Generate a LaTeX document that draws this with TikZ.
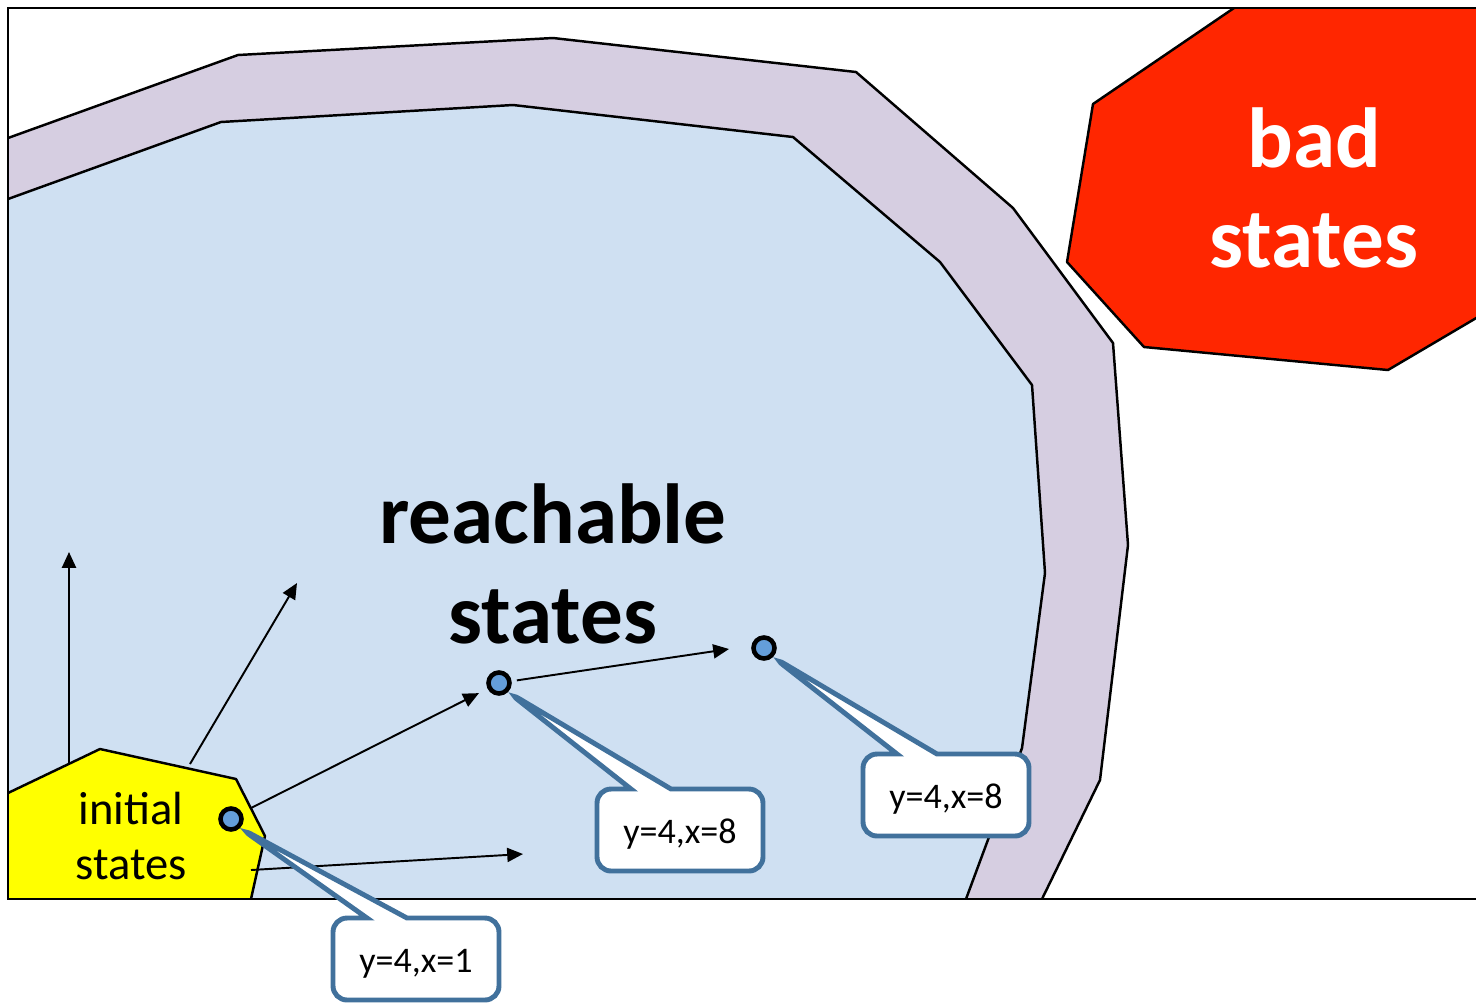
\documentclass[tikz,border=0pt]{standalone}
\usepackage{fontspec}
\setmainfont{Carlito}
\usetikzlibrary{arrows.meta,shapes.callouts}

\definecolor{shellpurple}{RGB}{214,206,225}
\definecolor{reachblue}{RGB}{207,224,242}
\definecolor{badred}{RGB}{255,38,0}
\definecolor{inityellow}{RGB}{255,255,0}
\definecolor{boxblue}{RGB}{65,113,156}
\definecolor{dotblue}{RGB}{100,158,218}

\begin{document}
\begin{tikzpicture}[x=0.02cm,y=-0.02cm]
\tikzset{
  region/.style={draw=black,line width=1.4pt,line join=round},
  statedot/.style={circle,draw=black,line width=2.6pt,fill=dotblue,minimum size=0.42cm,inner sep=0pt},
  trans/.style={draw=black,line width=1.1pt,-{Triangle[length=9pt,width=8pt]}},
  valbox/.style={rectangle callout,draw=boxblue,line width=2.8pt,fill=white,rounded corners=0.28cm,
    minimum width=3.32cm,minimum height=1.64cm,callout pointer width=0.8cm,
    text height=0.62cm,text depth=0.08cm,font=\fontsize{20.5}{24}\selectfont},
  biglabel/.style={align=center,font=\fontsize{48.5}{57}\selectfont\bfseries}
}
\useasboundingbox (0,0) rectangle (1476,1002);
% regions, cut at the frame
\begin{scope}
\clip (8,8) rectangle (1476,899);
\draw[region,fill=shellpurple] (8,138) -- (238,55) -- (553,38) -- (856,72) -- (1013,208) -- (1113,343)
  -- (1128,545) -- (1100,780) -- (1042,899) -- (1027,930) -- (-10,930) -- (-10,138) -- cycle;
\draw[region,fill=reachblue] (8,199) -- (221,122) -- (513,105) -- (793,137) -- (940,262) -- (1032,385)
  -- (1045,573) -- (1022,748) -- (966,899) -- (955,930) -- (-10,930) -- (-10,199) -- cycle;
\draw[region,fill=inityellow] (8,793) -- (100,749) -- (236,779) -- (265,836) -- (251,899)
  -- (248,930) -- (-10,930) -- (-10,793) -- cycle;
\draw[region,fill=badred] (1260,-10) -- (1234,8) -- (1093,104) -- (1067,262) -- (1144,347)
  -- (1388,370) -- (1500,304) -- (1500,-10) -- cycle;
\end{scope}
\draw[line width=1.4pt] (1476,8) -- (8,8) -- (8,899) -- (1476,899);

% labels
\node[biglabel] (n_reach) at (553,564) {reachable\\states};
\node[biglabel,text=white] (n_bad) at (1314,188) {bad\\states};
\node[align=center,font=\fontsize{26.5}{31}\selectfont] (n_init) at (131,836) {initial\\states};

% states
\node[statedot] (n_s0) at (231,819) {};
\node[statedot] (n_s1) at (499,683) {};
\node[statedot] (n_s2) at (764,648) {};

% transitions
\coordinate (p_a) at (69,764);
\coordinate (q_a) at (69,552);
\coordinate (p_b) at (190,764);
\coordinate (q_b) at (297,583);
\coordinate (p_c) at (251,808);
\coordinate (q_d) at (729,649);
\coordinate (p_e) at (251,870);
\coordinate (q_e) at (523,854);
\draw[trans] (p_a) -- (q_a);
\draw[trans] (p_b) -- (q_b);
\draw[trans,shorten >=5.5pt] (p_c) -- (n_s1);
\draw[trans,shorten <=3pt] (n_s1) -- (q_d);
\draw[trans] (p_e) -- (q_e);

% values
\node[valbox,callout absolute pointer={(n_s0.south east)}] (n_v0) at (416,959) {y=4,x=1};
\node[valbox,callout absolute pointer={(n_s1.south east)}] (n_v1) at (680,830) {y=4,x=8};
\node[valbox,callout absolute pointer={(n_s2.south east)}] (n_v2) at (946,795) {y=4,x=8};
\end{tikzpicture}
\end{document}
